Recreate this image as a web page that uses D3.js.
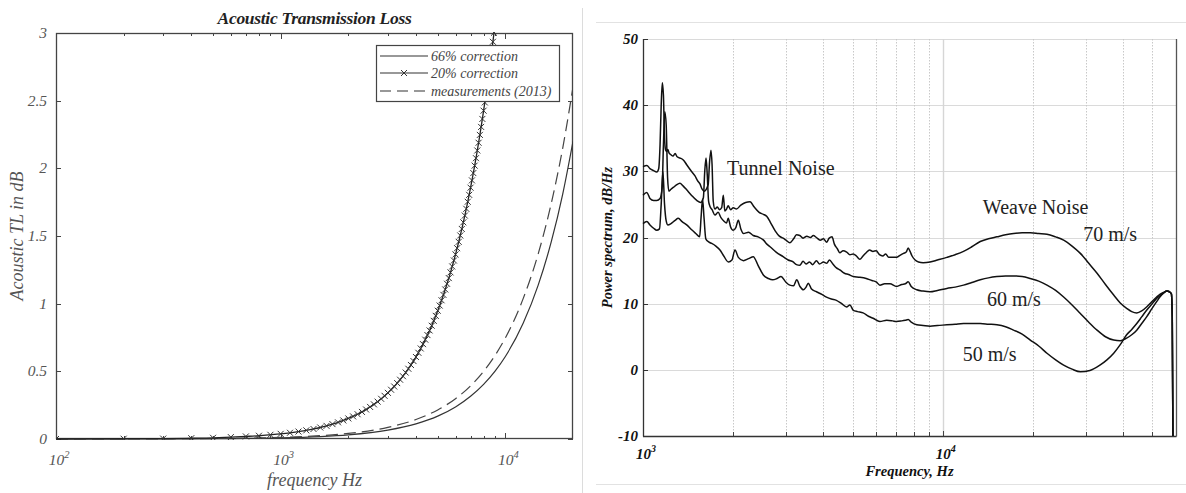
<!DOCTYPE html>
<html><head><meta charset="utf-8">
<script src="https://cdn.jsdelivr.net/npm/d3@7"></script>
<style>
html,body{margin:0;padding:0;background:#fff;}
svg{display:block;}
text{font-family:"Liberation Serif","Times New Roman",serif;}
</style></head><body>
<svg id="fig" width="1186" height="493"></svg>
<script>
// ---------- Left panel: acoustic transmission loss (dB) vs frequency ----------
const tlFreq = [100,200,300,400,500,600,700,800,900,1000,1500,2000,3000,4000,5000,6000,7000,8000,9000,10000,12000,14000,16000,18000,20000];
const tl66 = [0.0001,0.0004,0.0009,0.0016,0.0024,0.0034,0.0045,0.0057,0.0071,0.0086,0.018,0.031,0.066,0.112,0.169,0.237,0.316,0.404,0.502,0.610,0.855,1.137,1.456,1.81,2.2];
const tlMeasured = [0.0002,0.0007,0.0014,0.0023,0.0034,0.0047,0.0062,0.0079,0.0098,0.012,0.0245,0.041,0.086,0.144,0.215,0.298,0.393,0.50,0.618,0.747,1.037,1.368,1.74,2.15,2.6];
const tl20Freq = [100,200,300,400,500,600,700,800,900,1000,1100,1200,1300,1400,1500,1600,1700,1800,1900,2000,2100,2200,2300,2400,2500,2600,2700,2800,2900,3000,3100,3200,3300,3400,3500,3600,3700,3800,3900,4000,4100,4200,4300,4400,4500,4600,4700,4800,4900,5000,5100,5200,5300,5400,5500,5600,5700,5800,5900,6000,6100,6200,6300,6400,6500,6600,6700,6800,6900,7000,7100,7200,7300,7400,7500,7600,7700,7800,7900,8000,8100,8200,8300,8400,8500,8600,8700,8800,8900,9000,9100];
const tl20 = [0.000,0.002,0.003,0.006,0.009,0.014,0.019,0.024,0.031,0.038,0.046,0.055,0.064,0.074,0.085,0.097,0.110,0.123,0.137,0.152,0.167,0.183,0.200,0.218,0.237,0.256,0.276,0.297,0.319,0.341,0.364,0.388,0.413,0.438,0.464,0.491,0.519,0.547,0.576,0.606,0.637,0.669,0.701,0.734,0.768,0.802,0.837,0.873,0.910,0.948,0.986,1.025,1.065,1.105,1.147,1.189,1.231,1.275,1.319,1.364,1.410,1.457,1.504,1.552,1.601,1.651,1.701,1.753,1.804,1.857,1.911,1.965,2.020,2.075,2.132,2.189,2.247,2.306,2.365,2.426,2.487,2.548,2.611,2.674,2.738,2.803,2.869,2.935,3.002,3.070,3.138];
const tlLegend = ["66% correction","20% correction","measurements (2013)"];
const tlYTicks = [0,0.5,1,1.5,2,2.5,3];
const tlXMajor = [100,1000,10000];
const tlXExp = ["2","3","4"];
const tlXMinor = [200,300,400,500,600,700,800,900,2000,3000,4000,5000,6000,7000,8000,9000];

// ---------- Right panel: power spectra at three flow speeds ----------
const spec70 = [[1000,30.7],[1030,30.9],[1055,30.4],[1085,30.1],[1111,29.9],[1128,30.4],[1140,34],[1150,40],[1160,43.4],[1170,41.5],[1180,35],[1190,33.2],[1200,33.0],[1210,33.3],[1221,32.8],[1240,32.5],[1259,32.3],[1280,32.7],[1300,32.2],[1346,31.9],[1370,31.6],[1399,31.0],[1440,30.2],[1491,29.3],[1520,28.6],[1549,28.1],[1575,27.3],[1600,27.0],[1650,28],[1668,31.5],[1686,33.2],[1700,31],[1715,25.5],[1738,24.3],[1770,24.6],[1800,24.2],[1830,24.5],[1853,26.4],[1875,24.0],[1900,24.3],[1924,24.8],[1960,24.2],[2000,24.5],[2050,24.3],[2120,24.9],[2200,25.3],[2275,25.4],[2350,24.6],[2440,23.8],[2520,23.5],[2586,23.2],[2660,22.3],[2760,21.0],[2850,20.2],[2934,19.9],[3000,19.6],[3089,19.2],[3180,19.8],[3250,20.4],[3334,20.3],[3420,19.9],[3520,20.2],[3620,20.0],[3700,20.3],[3790,20.0],[3900,19.6],[4000,19.8],[4094,19.3],[4180,19.9],[4272,20.1],[4350,19.0],[4450,18.3],[4535,17.7],[4650,18.0],[4780,17.8],[4900,17.4],[5029,17.5],[5150,17.2],[5288,16.7],[5420,17.2],[5554,17.7],[5700,18.1],[5850,17.9],[5996,18.0],[6150,17.4],[6308,17.2],[6450,17.5],[6600,17.0],[6835,17.0],[7015,17.0],[7200,17.3],[7400,17.6],[7550,17.8],[7668,18.4],[7780,17.9],[7900,17.2],[8085,16.6],[8300,16.3],[8600,16.2],[9072,16.3],[9600,16.6],[10320,17.0],[11000,17.4],[11730,17.9],[12500,18.6],[13340,19.4],[14200,19.8],[15160,20.1],[16200,20.4],[17230,20.6],[18400,20.7],[19590,20.7],[20900,20.6],[22270,20.5],[23800,20.1],[25310,19.6],[27000,18.7],[28780,17.6],[30700,16.1],[32720,14.6],[34900,12.9],[37180,11.3],[39100,10.1],[41060,9.3],[42700,8.8],[44380,8.6],[46100,8.9],[47870,9.5],[49800,10.3],[51710,11.0],[53000,11.4],[54460,11.7],[56000,11.9],[57000,11.8],[57900,11.5],[58300,8],[58600,-10]];
const spec60 = [[1000,26.4],[1030,26.8],[1055,25.9],[1085,25.6],[1111,25.6],[1140,25.9],[1158,27.5],[1170,34],[1182,39.0],[1195,37],[1208,29],[1220,27.0],[1240,27.3],[1265,27.6],[1290,27.9],[1328,28.2],[1360,27.8],[1399,27.2],[1450,26.4],[1511,25.6],[1560,25.3],[1590,26],[1607,30],[1623,32.0],[1638,29.5],[1655,25.5],[1673,24.7],[1700,24.2],[1738,23.4],[1780,23.8],[1820,23.0],[1860,22.5],[1900,22.2],[1924,22.9],[1960,21.6],[1999,21.1],[2040,21.5],[2080,22.6],[2120,21.3],[2163,20.6],[2250,20.8],[2333,20.3],[2420,20.1],[2524,19.6],[2590,19.0],[2653,18.6],[2780,17.8],[2934,17.1],[3050,16.6],[3169,16.3],[3250,15.9],[3334,15.8],[3420,16.4],[3500,16.0],[3594,16.3],[3680,15.9],[3790,16.5],[3881,16.0],[4000,16.3],[4100,16.1],[4190,16.6],[4300,16.0],[4420,15.4],[4535,15.1],[4700,14.6],[4850,14.4],[5029,14.1],[5250,14.0],[5554,13.8],[5800,13.5],[5996,13.3],[6169,12.8],[6400,13.0],[6665,13.0],[7015,12.6],[7300,12.9],[7500,13.0],[7668,13.3],[7850,12.6],[8190,12.1],[8600,11.9],[9072,11.8],[9600,12.0],[10320,12.3],[11000,12.5],[11730,12.8],[12500,13.2],[13340,13.6],[14200,13.9],[15160,14.1],[16200,14.2],[17230,14.2],[18400,14.1],[19590,13.8],[20900,13.4],[22270,12.8],[23800,12.0],[25310,11.0],[27000,9.8],[28780,8.5],[30700,7.2],[32720,6.0],[34900,5.0],[37180,4.5],[39100,4.4],[41060,4.8],[42700,5.3],[44380,6.0],[46100,7.0],[47870,8.0],[49800,9.2],[51710,10.3],[53000,11.0],[54460,11.6],[56000,11.9],[57000,11.8],[57900,11.5],[58300,8],[58600,-10]];
const spec50 = [[1000,22.1],[1030,22.4],[1055,21.9],[1085,21.4],[1111,21.1],[1135,21.3],[1150,25],[1165,30],[1180,25],[1195,22.5],[1210,21.9],[1240,22.1],[1280,22.6],[1311,22.9],[1350,22.4],[1399,21.9],[1450,21.2],[1500,20.6],[1545,20.1],[1562,23],[1580,25.8],[1598,23],[1620,19.8],[1660,19.3],[1695,19.1],[1750,18.7],[1806,18.1],[1860,17.2],[1926,16.3],[1980,16.6],[2027,18.1],[2080,17.0],[2163,16.5],[2250,16.8],[2333,17.1],[2420,15.8],[2524,14.3],[2620,13.8],[2708,13.6],[2800,13.8],[2887,14.1],[2990,13.3],[3089,12.8],[3180,12.7],[3257,13.6],[3340,12.6],[3429,12.1],[3500,12.5],[3560,13.1],[3650,12.2],[3790,11.8],[3950,11.4],[4094,11.0],[4250,10.7],[4418,10.5],[4600,10.0],[4776,9.5],[4900,9.8],[5029,9.0],[5200,8.8],[5423,8.6],[5650,8.1],[5857,7.8],[6169,7.3],[6500,7.5],[6800,7.4],[7015,7.3],[7300,7.4],[7500,7.5],[7668,7.6],[7850,7.2],[8190,6.8],[8600,6.7],[9072,6.6],[9600,6.7],[10320,6.8],[11000,6.9],[11730,7.0],[12500,7.0],[13340,7.0],[14200,6.9],[15160,6.8],[16200,6.5],[17230,6.0],[18400,5.4],[19590,4.5],[20900,3.6],[22270,2.5],[23800,1.5],[25310,0.7],[27000,0.1],[28780,-0.3],[30980,-0.1],[33440,0.7],[35300,1.5],[37180,2.5],[39100,3.8],[41060,5.3],[42700,6.1],[44380,7.0],[46100,8.0],[47870,9.0],[49800,9.9],[51710,10.8],[53000,11.2],[54460,11.6],[56000,11.9],[57000,11.8],[57900,11.5],[58300,8],[58600,-10]];
const specYTicks = [-10,0,10,20,30,40,50];
const specXMajor = [1000,10000];
const specXExp = ["3","4"];
const specGridX = [2000,3000,4000,5000,6000,7000,8000,9000,20000,30000,40000,50000];

const svg = d3.select("#fig");

// panel separators
svg.append("line").attr("x1",582.5).attr("x2",582.5).attr("y1",8).attr("y2",493)
  .attr("stroke","#dcdcdc").attr("stroke-width",1);
svg.append("line").attr("x1",596).attr("x2",1186).attr("y1",22.5).attr("y2",22.5)
  .attr("stroke","#e2e2e2").attr("stroke-width",1);
svg.append("line").attr("x1",596).attr("x2",1186).attr("y1",484.5).attr("y2",484.5)
  .attr("stroke","#e2e2e2").attr("stroke-width",1);

// ======================= LEFT PANEL =======================
const L = {left:56, right:573, top:33, bottom:439};
const xL = d3.scaleLog().domain([100,20000]).range([L.left,L.right]);
const yL = d3.scaleLinear().domain([0,3]).range([L.bottom,L.top]);
const gL = svg.append("g");
const axisCol = "#444", labCol = "#555";

gL.append("clipPath").attr("id","clipL").append("rect")
  .attr("x",L.left).attr("y",L.top-1).attr("width",L.right-L.left).attr("height",L.bottom-L.top+2);

// frame
gL.append("rect").attr("x",L.left+0.5).attr("y",L.top+0.5)
  .attr("width",L.right-L.left-1).attr("height",L.bottom-L.top-1)
  .attr("fill","none").attr("stroke",axisCol).attr("stroke-width",1.3);

// inward ticks on all four sides
function inwardX(ticks, len){
  ticks.forEach(t=>{
    const x = Math.round(xL(t))+0.5;
    gL.append("line").attr("x1",x).attr("x2",x).attr("y1",L.bottom).attr("y2",L.bottom-len).attr("stroke",axisCol);
    gL.append("line").attr("x1",x).attr("x2",x).attr("y1",L.top).attr("y2",L.top+len).attr("stroke",axisCol);
  });
}
inwardX(tlXMajor.slice(1), 6);
inwardX(tlXMinor, 3);
tlYTicks.forEach(t=>{
  const y = Math.round(yL(t))+0.5;
  gL.append("line").attr("x1",L.left).attr("x2",L.left+5).attr("y1",y).attr("y2",y).attr("stroke",axisCol);
  gL.append("line").attr("x1",L.right-5).attr("x2",L.right).attr("y1",y).attr("y2",y).attr("stroke",axisCol);
  gL.append("text").attr("x",L.left-9).attr("y",yL(t)+5).attr("text-anchor","end")
    .attr("font-size",15.5).attr("font-style","italic").attr("fill",labCol).text(d3.format("")(t));
});
tlXMajor.forEach((t,i)=>{
  const tx = gL.append("text").attr("x",xL(t)+3).attr("y",465).attr("text-anchor","middle")
    .attr("font-size",15.5).attr("font-style","italic").attr("fill",labCol);
  tx.append("tspan").text("10");
  tx.append("tspan").attr("dy",-7).attr("font-size",10.5).text(tlXExp[i]);
});

// titles
gL.append("text").attr("x",(L.left+L.right)/2).attr("y",24).attr("text-anchor","middle")
  .attr("font-size",17.5).attr("font-weight","bold").attr("font-style","italic").attr("fill","#222")
  .attr("letter-spacing","-0.3")
  .text("Acoustic Transmission Loss");
gL.append("text").attr("x",(L.left+L.right)/2).attr("y",486).attr("text-anchor","middle")
  .attr("font-size",18).attr("font-style","italic").attr("fill",labCol).text("frequency Hz");
gL.append("text").attr("transform",`translate(23,${(L.top+L.bottom)/2}) rotate(-90)`)
  .attr("text-anchor","middle").attr("font-size",18).attr("font-style","italic").attr("fill",labCol)
  .text("Acoustic TL in dB");

// curves
const lineL = d3.line().x(d=>xL(d[0])).y(d=>yL(d[1])).curve(d3.curveMonotoneX);
const curves = gL.append("g").attr("clip-path","url(#clipL)");
curves.append("path").datum(d3.zip(tlFreq,tl66)).attr("d",lineL)
  .attr("fill","none").attr("stroke","#333").attr("stroke-width",1.2);
curves.append("path").datum(d3.zip(tlFreq,tlMeasured)).attr("d",lineL)
  .attr("fill","none").attr("stroke","#444").attr("stroke-width",1.2).attr("stroke-dasharray","12,6");
curves.append("path").datum(d3.zip(tl20Freq,tl20)).attr("d",lineL)
  .attr("fill","none").attr("stroke","#222").attr("stroke-width",1.3);
const cross = "M-3,-3L3,3M-3,3L3,-3";
curves.selectAll("path.mk").data(d3.zip(tl20Freq,tl20)).join("path").attr("class","mk")
  .attr("transform",d=>`translate(${xL(d[0])},${yL(d[1])})`).attr("d",cross)
  .attr("stroke","#333").attr("stroke-width",1).attr("fill","none");

// legend
const lg = gL.append("g");
lg.append("rect").attr("x",376.5).attr("y",45.5).attr("width",183).attr("height",56)
  .attr("fill","#fff").attr("stroke",axisCol).attr("stroke-width",1.2);
const rowY = [56,73,91];
tlLegend.forEach((name,i)=>{
  const ln = lg.append("line").attr("x1",380).attr("x2",428).attr("y1",rowY[i]).attr("y2",rowY[i])
    .attr("stroke","#333").attr("stroke-width",1.2);
  if(i===2) ln.attr("stroke-dasharray","11,6");
  if(i===1) lg.append("path").attr("d",cross).attr("transform",`translate(404,${rowY[i]})`)
    .attr("stroke","#333").attr("fill","none");
  lg.append("text").attr("x",431).attr("y",rowY[i]+4.5).attr("font-size",14).attr("font-style","italic")
    .attr("fill","#444").text(name);
});

// ======================= RIGHT PANEL =======================
const R = {left:643, right:1176, top:39, bottom:436};
const xR = d3.scaleLog().domain([1000,60000]).range([R.left,R.right]);
const yR = d3.scaleLinear().domain([-10,50]).range([R.bottom,R.top]);
const gR = svg.append("g");

// grid
specYTicks.forEach(t=>{
  if(t===-10) return;
  const y = Math.round(yR(t))+0.5;
  gR.append("line").attr("x1",R.left).attr("x2",R.right).attr("y1",y).attr("y2",y)
    .attr("stroke","#dadada").attr("stroke-width",1);
});
specGridX.forEach(t=>{
  const x = Math.round(xR(t))+0.5;
  gR.append("line").attr("x1",x).attr("x2",x).attr("y1",R.top).attr("y2",R.bottom)
    .attr("stroke","#c8c8c8").attr("stroke-width",1).attr("stroke-dasharray","1.5,1.5");
  gR.append("line").attr("x1",x).attr("x2",x).attr("y1",R.bottom).attr("y2",R.bottom-4)
    .attr("stroke","#444");
});
{
  const x = Math.round(xR(10000))+0.5;
  gR.append("line").attr("x1",x).attr("x2",x).attr("y1",R.top).attr("y2",R.bottom)
    .attr("stroke","#d6d6d6").attr("stroke-width",1.4);
  gR.append("line").attr("x1",x).attr("x2",x).attr("y1",R.bottom).attr("y2",R.bottom-5).attr("stroke","#444");
}

// frame: left, bottom, right
gR.append("line").attr("x1",R.left+0.5).attr("x2",R.left+0.5).attr("y1",R.top).attr("y2",R.bottom+0.5).attr("stroke","#333").attr("stroke-width",1.3);
gR.append("line").attr("x1",R.left).attr("x2",R.right+0.5).attr("y1",R.bottom+0.5).attr("y2",R.bottom+0.5).attr("stroke","#333").attr("stroke-width",1.3);
gR.append("line").attr("x1",R.right+0.5).attr("x2",R.right+0.5).attr("y1",R.top).attr("y2",R.bottom+0.5).attr("stroke","#555").attr("stroke-width",1.3);

specYTicks.forEach(t=>{
  const y = Math.round(yR(t))+0.5;
  gR.append("line").attr("x1",R.left).attr("x2",R.left+5).attr("y1",y).attr("y2",y).attr("stroke","#333");
  gR.append("text").attr("x",R.left-5).attr("y",yR(t)+5).attr("text-anchor","end")
    .attr("font-size",15).attr("font-weight","bold").attr("font-style","italic").attr("fill","#111").text(t);
});
specXMajor.forEach((t,i)=>{
  const tx = gR.append("text").attr("x",xR(t)+3).attr("y",459).attr("text-anchor","middle")
    .attr("font-size",15).attr("font-weight","bold").attr("font-style","italic").attr("fill","#111");
  tx.append("tspan").text("10");
  tx.append("tspan").attr("dy",-7).attr("font-size",10).text(specXExp[i]);
});
gR.append("text").attr("x",(R.left+R.right)/2).attr("y",476).attr("text-anchor","middle")
  .attr("font-size",14.5).attr("font-weight","bold").attr("font-style","italic").attr("fill","#111")
  .text("Frequency, Hz");
gR.append("text").attr("transform",`translate(612,${(R.top+R.bottom)/2}) rotate(-90)`)
  .attr("text-anchor","middle").attr("font-size",14.5).attr("font-weight","bold").attr("font-style","italic")
  .attr("fill","#111").text("Power spectrum, dB/Hz");

// spectra
const lineR = d3.line().x(d=>xR(d[0])).y(d=>yR(d[1])).curve(d3.curveMonotoneX);
[spec70,spec60,spec50].forEach(s=>{
  gR.append("path").datum(s).attr("d",lineR).attr("fill","none")
    .attr("stroke","#111").attr("stroke-width",1.5).attr("stroke-linejoin","round");
});

// annotations placed in data coordinates
const notes = [
  ["Tunnel Noise",1906,29.4],["Weave Noise",13610,23.5],["70 m/s",29400,19.4],
  ["60 m/s",14040,9.7],["50 m/s",11650,1.3]
];
notes.forEach(n=>{
  gR.append("text").attr("x",xR(n[1])).attr("y",yR(n[2])).attr("font-size",20)
    .attr("fill","#222").text(n[0]);
});
</script>
</body></html>
